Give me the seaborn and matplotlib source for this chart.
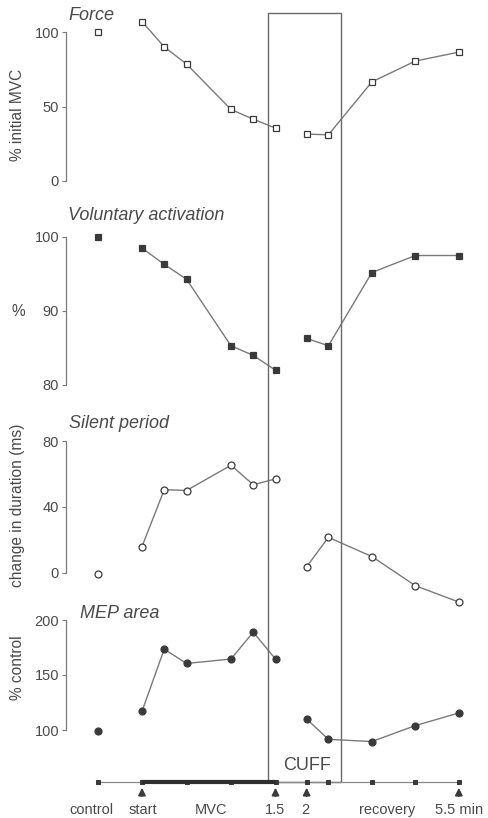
import numpy as np
import pandas as pd
import matplotlib
matplotlib.use("Agg")
import matplotlib.pyplot as plt
import seaborn as sns
from matplotlib.patches import Rectangle

sns.set_theme(style="white")
plt.rcParams["font.family"] = ["Liberation Sans", "DejaVu Sans"]

# ---------------- data ----------------
# time in minutes (control shown before start)
control_time = -0.5
mvc_times = [0.0, 0.25, 0.5, 1.0, 1.25, 1.5]
post_times = [2.0, 2.5, 3.5, 4.5, 5.5]

force_control = 100
force_mvc = [107, 90, 78.5, 48, 41.5, 35.5]
force_post = [31.5, 31, 66.5, 80.5, 86.5]

va_control = 100
va_mvc = [98.5, 96.3, 94.3, 85.3, 84.0, 82.0]
va_post = [86.3, 85.3, 95.2, 97.5, 97.5]

sp_control = -0.5
sp_mvc = [16, 50.5, 50, 65.3, 53.5, 57]
sp_post = [3.8, 21.6, 10, -7.7, -17.6]

mep_control = 99
mep_mvc = [117, 173.5, 160.5, 164.5, 189, 164.5]
mep_post = [110, 91.5, 89.5, 104, 115.5]

cuff_interval = [1.42, 2.8]
timeline_ticks = [-0.5, 0.0, 0.5, 1.0, 1.5, 2.0, 2.5, 3.5, 4.5, 5.5]
arrow_times = [0.0, 1.5, 2.0, 5.5]
timeline_labels = ["control", "start", "MVC", "1.5", "2", "recovery", "5.5 min"]
timeline_label_times = [-0.57, 0.01, 0.78, 1.5, 1.98, 3.85, 5.5]

panel_titles = ["Force", "Voluntary activation", "Silent period", "MEP area"]
panel_ylabels = ["% initial MVC", "%", "change in duration (ms)", "% control"]
panel_ticks = [[0, 50, 100], [80, 90, 100], [0, 40, 80], [100, 150, 200]]

# broken time scale (piecewise linear)
knots_t = [-2.0, 0.0, 1.5, 2.0, 5.5, 8.0]
knots_p = [-2.0, 0.0, 1.5, 1.85, 3.56, 3.56 + 2.5 * 1.71 / 3.5]
def tpos(t):
    return np.interp(t, knots_t, knots_p)

def make_df(ctrl, mvc, post):
    xs = [control_time] + mvc_times + post_times
    ys = [ctrl] + mvc + post
    seg = [0] + [1] * len(mvc) + [2] * len(post)
    return pd.DataFrame({"x": tpos(np.array(xs)), "y": ys, "seg": seg})

# ---------------- layout ----------------
W, H = 489, 818
fig = plt.figure(figsize=(W / 100, H / 100), dpi=100)
X0, X1 = 66, 485
xlim = ((X0 - 142) / 89.0, (X1 - 142) / 89.0)

def add_ax(top_px, bot_px):
    return fig.add_axes([X0 / W, 1 - bot_px / H, (X1 - X0) / W, (bot_px - top_px) / H])

LINE = "#7a7a7a"
DARK = "#3a3a3a"
TXT = "#4a4a4a"

panels = [
    dict(df=make_df(force_control, force_mvc, force_post), ylim=(-3, 110), tick_px=(32, 181), rng=(0, 100), marker="s", fill="white", ms=4.6),
    dict(df=make_df(va_control, va_mvc, va_post), ylim=(79, 101.2), tick_px=(237, 385), rng=(80, 100), marker="s", fill=DARK, ms=4.6),
    dict(df=make_df(sp_control, sp_mvc, sp_post), ylim=(-22, 85), tick_px=(441, 573), rng=(0, 80), marker="o", fill="white", ms=5.0),
    dict(df=make_df(mep_control, mep_mvc, mep_post), ylim=(85, 205), tick_px=(620, 730), rng=(100, 200), marker="o", fill=DARK, ms=5.0),
]
title_pos = [(68, 15), (68, 215), (69, 423), (80, 613)]
ylabel_pos = [115, 312, 505, 668]

for i, p in enumerate(panels):
    lo, hi = p["rng"]
    top_px, bot_px = p["tick_px"]
    ppu = (bot_px - top_px) / (hi - lo)
    ax_top = top_px - (p["ylim"][1] - hi) * ppu
    ax_bot = bot_px + (lo - p["ylim"][0]) * ppu
    ax = add_ax(ax_top, ax_bot)
    ax.set_facecolor("none")
    sns.lineplot(data=p["df"], x="x", y="y", units="seg", estimator=None,
                 ax=ax, color=LINE, lw=1.0, marker=p["marker"], markersize=p["ms"],
                 markerfacecolor=p["fill"], markeredgecolor=DARK, markeredgewidth=0.9,
                 clip_on=False, sort=False)
    ax.set_xlim(*xlim)
    ax.set_ylim(*p["ylim"])
    ax.set_xlabel("")
    ax.set_ylabel("")
    ax.set_xticks([])
    ax.set_yticks(panel_ticks[i])
    ax.tick_params(axis="y", direction="out", length=3, width=0.8, color=LINE,
                   labelsize=10.5, labelcolor=TXT, pad=2, left=True)
    for s in ["top", "right", "bottom"]:
        ax.spines[s].set_visible(False)
    ax.spines["left"].set_bounds(lo, hi)
    ax.spines["left"].set_color(LINE)
    ax.spines["left"].set_linewidth(0.9)
    tx, ty = title_pos[i]
    fig.text(tx / W, 1 - ty / H, panel_titles[i], fontsize=13, style="italic",
             color=TXT, ha="left", va="center")
    fig.text(18 / W, 1 - ylabel_pos[i] / H, panel_ylabels[i], fontsize=11.2, color=TXT,
             rotation=0 if panel_ylabels[i] == "%" else 90, ha="center", va="center")

# ---------------- timeline + cuff overlay ----------------
ov = fig.add_axes([X0 / W, 0, (X1 - X0) / W, 1])
ov.set_xlim(*xlim)
ov.set_ylim(H, 0)
ov.axis("off")
ov.set_facecolor("none")

TL_Y = 782
tl = pd.DataFrame({"x": tpos(np.array(timeline_ticks)), "y": [TL_Y] * len(timeline_ticks)})
sns.lineplot(data=tl, x="x", y="y", ax=ov, color="#888888", lw=0.9, marker="s",
             markersize=3.5, markerfacecolor=DARK, markeredgecolor=DARK, sort=False)
bar_x = tpos(np.array([mvc_times[0], mvc_times[-1]]))
ov.plot(bar_x, [TL_Y, TL_Y], color="#2e2e2e", lw=3.0, solid_capstyle="butt")
ov.set_xlabel("")
ov.set_ylabel("")

for t in arrow_times:
    ov.annotate("", xy=(tpos(t), 785), xytext=(tpos(t), 799),
                arrowprops=dict(arrowstyle="-|>", color=DARK, lw=1.2, mutation_scale=11))
for lab, t in zip(timeline_labels, timeline_label_times):
    ov.text(tpos(t), 810, lab, ha="center", va="center", fontsize=10.5, color=TXT)

c0, c1 = tpos(cuff_interval[0]), tpos(cuff_interval[1])
ov.add_patch(Rectangle((c0, 13), c1 - c0, TL_Y - 13, fill=False, edgecolor="#6a6a6a", lw=1.0))
ov.text(tpos(2.0), 766, "CUFF", ha="center", va="center", fontsize=13, color=TXT)

fig.savefig("out.png", dpi=100)
